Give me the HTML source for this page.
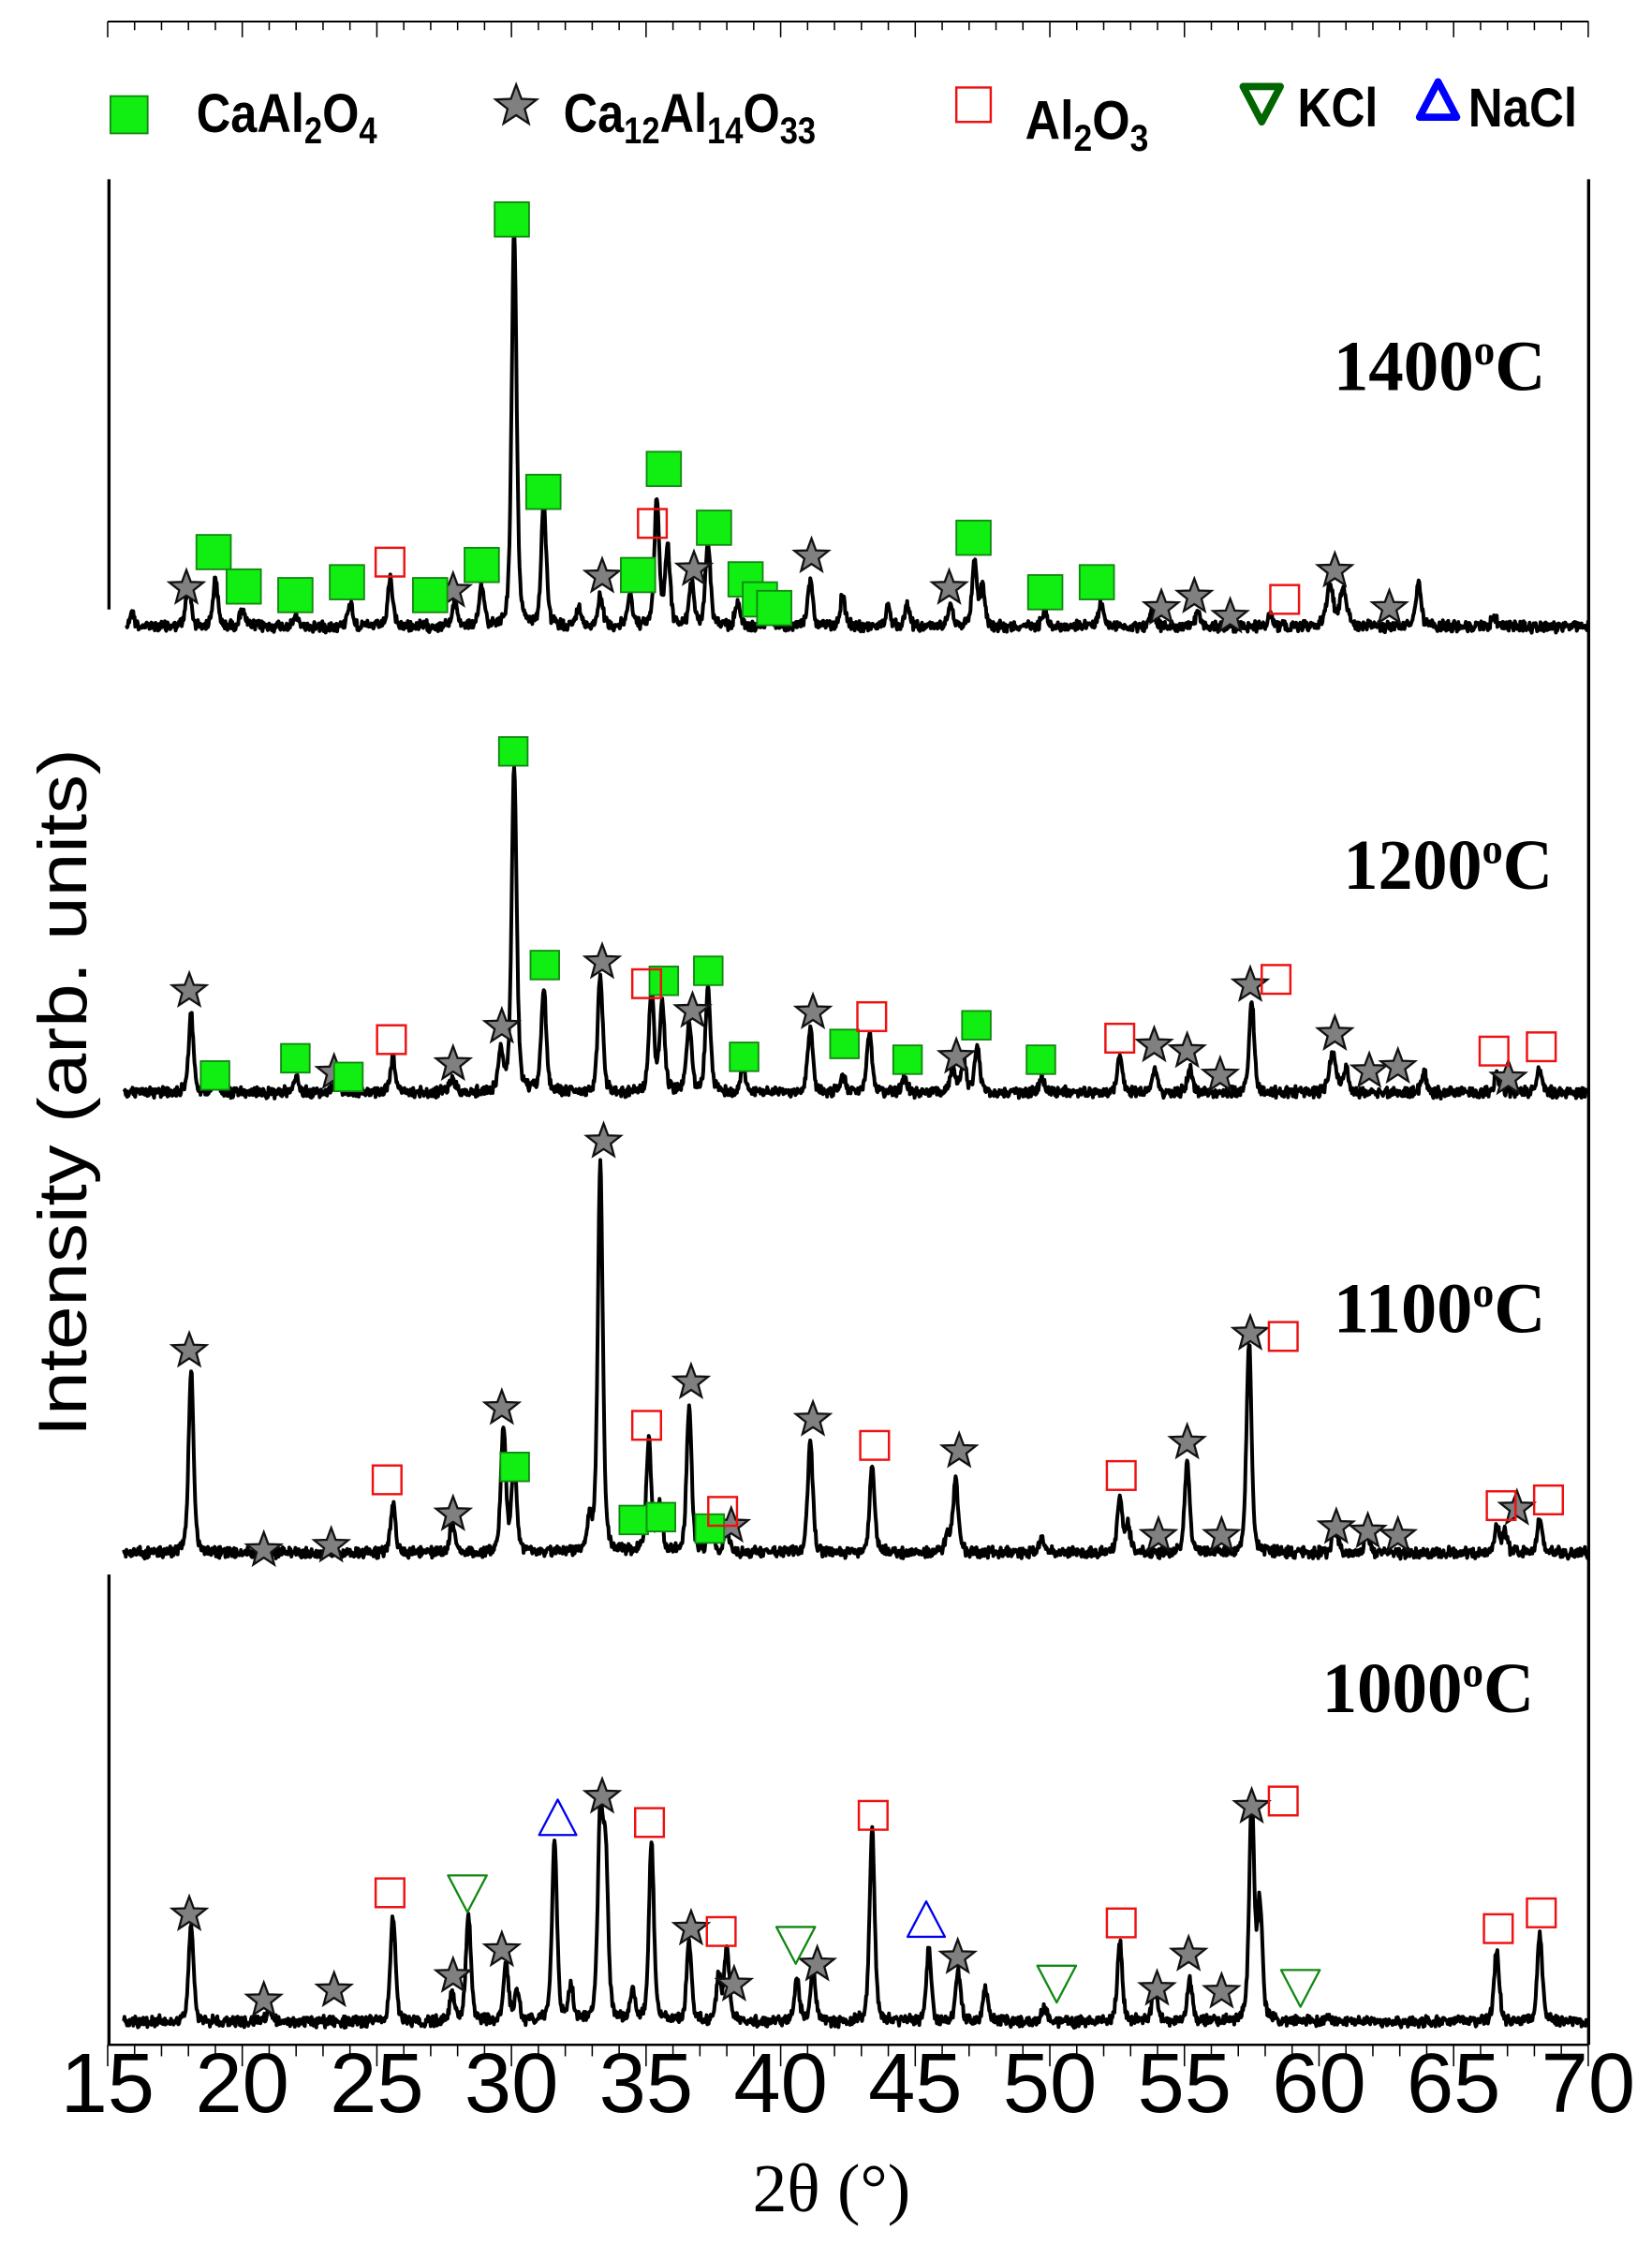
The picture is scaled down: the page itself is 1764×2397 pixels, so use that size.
<!DOCTYPE html>
<html><head><meta charset="utf-8"><style>
html,body{margin:0;padding:0;background:#fff;}
svg{display:block;}
</style></head><body>
<svg id="s" xmlns="http://www.w3.org/2000/svg" width="1764" height="2397" viewBox="0 0 1152.2 1565.6">
<rect width="1152.2" height="1565.6" fill="#fff"/>
<g id="axes" stroke="#000" fill="none"></g>
<g id="traces" stroke="#000" stroke-width="2.6" fill="none" stroke-linejoin="round"></g>
<g id="marks"></g>
<g font-family="Liberation Sans, Arial, sans-serif" fill="#000">
<text x="75" y="1473" font-size="59" text-anchor="middle">15</text>
</g>
<g font-family="Liberation Sans, Arial, sans-serif" font-weight="bold" font-size="38" fill="#000">
<text x="137" y="92" textLength="126" lengthAdjust="spacingAndGlyphs">CaAl<tspan font-size="26" dy="8">2</tspan><tspan dy="-8">O</tspan><tspan font-size="26" dy="8">4</tspan></text>
<text x="393" y="92" textLength="176" lengthAdjust="spacingAndGlyphs">Ca<tspan font-size="26" dy="8">12</tspan><tspan dy="-8">Al</tspan><tspan font-size="26" dy="8">14</tspan><tspan dy="-8">O</tspan><tspan font-size="26" dy="8">33</tspan></text>
<text x="715" y="97" textLength="86" lengthAdjust="spacingAndGlyphs">Al<tspan font-size="26" dy="8">2</tspan><tspan dy="-8">O</tspan><tspan font-size="26" dy="8">3</tspan></text>
<text x="905" y="88" textLength="56" lengthAdjust="spacingAndGlyphs">KCl</text>
<text x="1024" y="88" textLength="76" lengthAdjust="spacingAndGlyphs">NaCl</text>
</g>
<g font-family="Liberation Serif, serif" font-weight="bold" font-size="50" fill="#000">
<text x="930" y="272" textLength="148" lengthAdjust="spacingAndGlyphs">1400<tspan font-size="30" dy="-18">o</tspan><tspan dy="18">C</tspan></text>
<text x="937" y="620" textLength="146" lengthAdjust="spacingAndGlyphs">1200<tspan font-size="30" dy="-18">o</tspan><tspan dy="18">C</tspan></text>
<text x="930" y="929" textLength="148" lengthAdjust="spacingAndGlyphs">1100<tspan font-size="30" dy="-18">o</tspan><tspan dy="18">C</tspan></text>
<text x="922" y="1194" textLength="148" lengthAdjust="spacingAndGlyphs">1000<tspan font-size="30" dy="-18">o</tspan><tspan dy="18">C</tspan></text>
</g>
<text x="0" y="0" transform="translate(60,762) rotate(-90)" text-anchor="middle" font-family="Liberation Sans, Arial, sans-serif" font-size="48" textLength="480" lengthAdjust="spacingAndGlyphs">Intensity (arb. units)</text>
<text x="580" y="1542" text-anchor="middle" font-family="Liberation Serif, serif" font-size="48">2θ (°)</text>
</svg>
<script>
(function(){
var NS="http://www.w3.org/2000/svg";
function X(t){return 75.1+(t-15)*18.775;}
function el(p,n,a){var e=document.createElementNS(NS,n);for(var k in a)e.setAttribute(k,a[k]);p.appendChild(e);return e;}
var ax=document.getElementById('axes'),s=document.getElementById('s');
el(ax,'line',{x1:75.1,y1:15,x2:1108,y2:15,'stroke-width':1.3});
el(ax,'line',{x1:75.1,y1:1426,x2:1108,y2:1426,'stroke-width':1.6});
el(ax,'line',{x1:76,y1:125,x2:76,y2:425,'stroke-width':2.2});
el(ax,'line',{x1:76,y1:1098,x2:76,y2:1426,'stroke-width':2.2});
el(ax,'line',{x1:1108,y1:125,x2:1108,y2:1426,'stroke-width':2.2});
for(var t=15;t<=70;t++){
 var maj=(t%5==0),x=X(t);
 el(ax,'line',{x1:x,y1:15,x2:x,y2:maj?26:21,'stroke-width':1});
 el(ax,'line',{x1:x,y1:1426,x2:x,y2:maj?1441:1434,'stroke-width':1});
 if(maj&&t>15){var tx=el(s,'text',{x:x,y:1473,'font-size':59,'text-anchor':'middle','font-family':'Liberation Sans, Arial, sans-serif'});tx.textContent=t;}
}
var seed=12345;function rnd(){seed=(seed*1103515245+12345)%2147483648;return seed/2147483648;}
function trace(base,peaks,start){
 var d='';var n=0;
 for(var th=start;th<=70;th+=0.025){
  var y=base+(rnd()-0.5)*6+(rnd()-0.5)*3;
  for(var i=0;i<peaks.length;i++){
   var p=peaks[i],w=p[2]||0.11,dt=(th-p[0])/w;
   y-= (p[1])*(0.6*Math.exp(-dt*dt*0.7)+0.4/(1+dt*dt));
  }
  d+=(n++?'L':'M')+X(th).toFixed(2)+','+y.toFixed(2);
 }
 el(document.getElementById('traces'),'path',{d:d});
}
function P(base,list){return list.map(function(q){return [q[0],base-q[1],q[2]];});}
trace(437,P(437,[[18.0,407],[19.0,405],[20.0,425],[22.0,430],[24.0,420],[25.5,405],[27.9,420],[28.9,410],[30.1,162],[31.2,352],[32.5,425],[33.3,415],[34.4,415],[35.4,350],[35.8,382],[36.7,406],[37.3,378],[38.4,420],[39.6,425],[41.1,404],[42.3,416],[44.0,424],[44.7,422],[46.3,420],[47.2,392],[47.5,410],[49.8,425],[51.9,420],[53.8,428],[55.5,428],[58.2,428],[60.4,408,0.15],[60.9,410,0.15],[63.7,406],[66.5,430]]).concat([[15.9,10,0.1]]),15.7);
trace(762,P(762,[[18.1,708],[19,750],[22,750],[23.5,752],[25.6,738],[27.8,752],[29.6,735],[30.1,535],[31.2,690],[33.3,680],[35.2,690],[35.6,700],[36.6,712],[37.3,690],[38.6,745],[41.1,715],[42.3,750],[43.3,722],[44.6,752],[46.4,745],[46.8,740],[47.3,730],[49.7,750],[52.6,735],[53.9,745],[55.2,745],[57.5,697],[60.5,735,0.15],[61,745],[63.9,748],[66.6,750],[68.2,745]]),15.6);
trace(1083,P(1083,[[18.1,955],[25.6,1048],[27.8,1062],[29.7,995],[30.1,1020],[32.9,1062],[33.3,810],[35.1,1005],[35.5,1050],[36.6,980],[37.4,1060],[38.0,1065],[41.1,1005],[43.4,1022],[46.2,1070],[46.5,1032],[49.7,1072],[52.6,1045],[52.9,1065],[55.1,1020],[57.4,935],[60.6,1065],[61.8,1070],[66.6,1065],[66.9,1068],[68.2,1058]]),15.6);
trace(1410,P(1410,[[18.1,1345],[21,1400],[25.6,1335],[27.8,1390],[28.4,1335],[29.8,1370],[30.2,1390],[31.6,1285],[32.2,1385],[33.3,1268],[33.5,1300],[34.5,1390],[35.2,1285],[36.6,1355],[37.7,1380],[38,1360],[40.6,1380],[41.2,1375],[43.4,1275],[45.5,1360],[46.6,1375],[47.6,1385],[49.8,1400],[52.6,1355],[53.9,1385],[55.2,1380],[57.5,1255],[57.8,1330],[60.3,1405],[66.6,1360],[68.2,1350]]),15.6);
var mk=document.getElementById('marks');
function gsq(x,y,sz){el(mk,'rect',{x:x-sz/2,y:y-sz/2,width:sz,height:sz,fill:'#11ee11',stroke:'#118811','stroke-width':1.2});}
function rsq(x,y,sz){sz=sz||20;el(mk,'rect',{x:x-sz/2,y:y-sz/2,width:sz,height:sz,fill:'none',stroke:'#ee1111','stroke-width':1.6});}
function star(x,y,r){r=r||12.5;var p=[];for(var i=0;i<10;i++){var a=-Math.PI/2+i*Math.PI/5,rr=i%2?r*0.42:r;p.push((x+rr*Math.cos(a)).toFixed(1)+','+(y+rr*Math.sin(a)).toFixed(1));}
 el(mk,'polygon',{points:p.join(' '),fill:'#808080',stroke:'#111','stroke-width':1.5,'stroke-linejoin':'miter'});}
function dtri(x,y,c,w,sw){w=w||26;el(mk,'polygon',{points:(x-w/2)+','+(y-w*0.45)+' '+(x+w/2)+','+(y-w*0.45)+' '+x+','+(y+w*0.5),fill:'none',stroke:c,'stroke-width':sw||1.5,'stroke-linejoin':'round'});}
function utri(x,y,c,w,sw){w=w||26;el(mk,'polygon',{points:(x-w/2)+','+(y+w*0.45)+' '+(x+w/2)+','+(y+w*0.45)+' '+x+','+(y-w*0.5),fill:'none',stroke:c,'stroke-width':sw||1.5,'stroke-linejoin':'round'});}
[[130,410],[316,412],[420,402],[484,397],[566,388],[662,410],[931,398],[810,424],[833,416],[858,430],[969,424]].forEach(function(a){star(a[0],a[1]);});
[[149,385],[170,409],[206,415],[242,406],[300,415],[336,394],[357,153],[379,343],[445,401],[463,327],[498,368],[520,404],[530,418],[540,424],[679,375],[729,413],[765,406]].forEach(function(a){gsq(a[0],a[1],24);});
[[272,392],[455,365],[896,418]].forEach(function(a){rsq(a[0],a[1]);});
[[132,691],[233,748],[316,742],[350,716],[420,671],[483,705],[567,706],[667,737],[805,729],[828,733],[851,750],[872,687],[931,721],[955,747],[975,744],[1052,752]].forEach(function(a){star(a[0],a[1]);});
[[150,750],[206,738],[243,751],[380,673],[358,524],[463,684],[494,677],[519,737],[589,728],[633,739],[681,715],[726,739]].forEach(function(a){gsq(a[0],a[1],20);});
[[273,725],[451,686],[608,709],[781,724],[890,683],[1042,733],[1075,730]].forEach(function(a){rsq(a[0],a[1]);});
[[132,942],[184,1081],[231,1078],[316,1056],[350,982],[421,796],[482,964],[567,990],[669,1012],[808,1071],[828,1006],[852,1071],[872,930],[932,1065],[954,1068],[975,1071],[1058,1052],[510,1064]].forEach(function(a){star(a[0],a[1]);});
[[359,1023],[442,1060],[461,1058],[495,1066]].forEach(function(a){gsq(a[0],a[1],20);});
[[270,1032],[451,994],[504,1054],[610,1008],[782,1029],[895,932],[1047,1050],[1080,1046]].forEach(function(a){rsq(a[0],a[1]);});
[[132,1335],[184,1395],[233,1388],[316,1378],[350,1360],[420,1253],[482,1345],[512,1384],[570,1370],[668,1365],[807,1387],[829,1363],[852,1389],[873,1260]].forEach(function(a){star(a[0],a[1]);});
[[272,1320],[453,1271],[503,1347],[609,1266],[782,1341],[895,1256],[1045,1345],[1075,1334]].forEach(function(a){rsq(a[0],a[1]);});
[[326,1320],[555,1356],[737,1383],[907,1386]].forEach(function(a){dtri(a[0],a[1],'#118811',27);});
[[389,1268],[646,1339]].forEach(function(a){utri(a[0],a[1],'#0000ee',26);});
gsq(90,80,26);star(360,74,15);rsq(679,73,24);
dtri(880,72,'#006600',26,5);utri(1003,70,'#0000ff',26,5);
})();
</script>
</body></html>
